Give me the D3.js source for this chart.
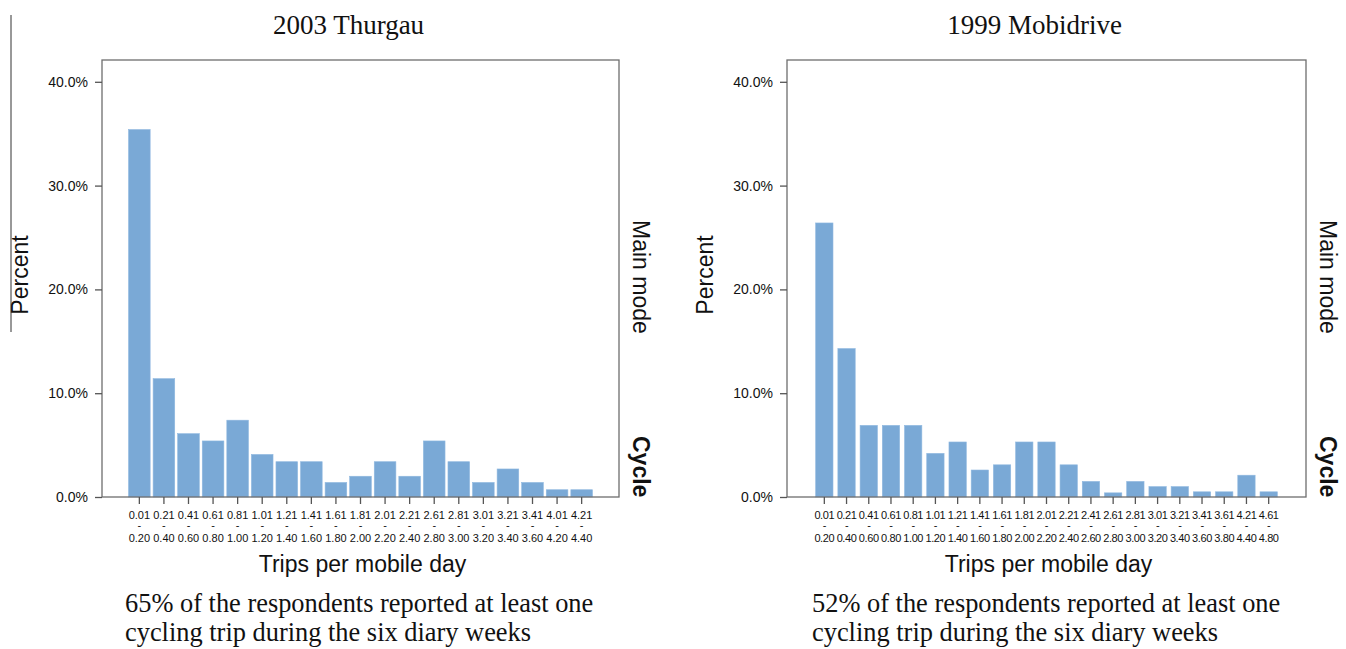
<!DOCTYPE html>
<html>
<head>
<meta charset="utf-8">
<script src="https://cdn.jsdelivr.net/npm/d3@7"></script>
<style>
  body { margin: 0; background: #fff; }
  svg { display: block; }
  .sans { font-family: Arial, "Liberation Sans", sans-serif; fill: #111; }
  .serif { font-family: "Times New Roman", "Liberation Serif", serif; fill: #111; }
</style>
</head>
<body>
<svg width="1346" height="649"></svg>
<script>
// 2003 Thurgau
var thurgauLow  = ["0.01","0.21","0.41","0.61","0.81","1.01","1.21","1.41","1.61","1.81","2.01","2.21","2.61","2.81","3.01","3.21","3.41","4.01","4.21"];
var thurgauHigh = ["0.20","0.40","0.60","0.80","1.00","1.20","1.40","1.60","1.80","2.00","2.20","2.40","2.80","3.00","3.20","3.40","3.60","4.20","4.40"];
var thurgauPct  = [35.4, 11.4, 6.1, 5.4, 7.4, 4.1, 3.4, 3.4, 1.4, 2.0, 3.4, 2.0, 5.4, 3.4, 1.4, 2.7, 1.4, 0.7, 0.7];

// 1999 Mobidrive
var mobiLow  = ["0.01","0.21","0.41","0.61","0.81","1.01","1.21","1.41","1.61","1.81","2.01","2.21","2.41","2.61","2.81","3.01","3.21","3.41","3.61","4.21","4.61"];
var mobiHigh = ["0.20","0.40","0.60","0.80","1.00","1.20","1.40","1.60","1.80","2.00","2.20","2.40","2.60","2.80","3.00","3.20","3.40","3.60","3.80","4.40","4.80"];
var mobiPct  = [26.4, 14.3, 6.9, 6.9, 6.9, 4.2, 5.3, 2.6, 3.1, 5.3, 5.3, 3.1, 1.5, 0.4, 1.5, 1.0, 1.0, 0.5, 0.5, 2.1, 0.5];

var yTicks = [0, 10, 20, 30, 40];

var svg = d3.select("svg");

// stray rule at the left edge of the scan
svg.append("line")
  .attr("x1", 11).attr("x2", 11).attr("y1", 15).attr("y2", 332)
  .attr("stroke", "#333").attr("stroke-width", 1);

function panel(opt) {
  var g = svg.append("g");
  var L = opt.left, R = opt.right, T = 60, B = 497;

  var x = d3.scaleBand()
    .domain(d3.range(opt.values.length))
    .range([L, R])
    .paddingInner(opt.pin)
    .paddingOuter(opt.pout);

  var y = d3.scaleLinear().domain([0, 42.1]).range([B, T]);

  // bars
  g.selectAll(".bar")
    .data(opt.values)
    .enter().append("rect")
      .attr("class", "bar")
      .attr("x", function(d, i) { return x(i); })
      .attr("width", x.bandwidth())
      .attr("y", function(d) { return y(d); })
      .attr("height", function(d) { return B - y(d); })
      .attr("fill", "#7aa9d6")
      .attr("stroke", "#8fb8e0")
      .attr("stroke-width", 0.6);

  // frame
  g.append("rect")
    .attr("x", L).attr("y", T)
    .attr("width", R - L).attr("height", B - T)
    .attr("fill", "none").attr("stroke", "#6e6e6e").attr("stroke-width", 1.3);

  // y axis
  var ya = g.append("g")
    .attr("transform", "translate(" + L + ",0)")
    .call(d3.axisLeft(y).tickValues(yTicks)
      .tickFormat(function(d) { return d.toFixed(1) + "%"; })
      .tickSize(7).tickPadding(7));
  ya.select(".domain").remove();
  ya.selectAll("line").attr("stroke", "#555").attr("stroke-width", 1.3);
  ya.selectAll("text").attr("class", "sans").style("font-size", "14px").attr("fill", "#111");

  // x axis
  var xa = g.append("g")
    .attr("transform", "translate(0," + B + ")")
    .call(d3.axisBottom(x).tickSize(7).tickFormat(""));
  xa.select(".domain").remove();
  xa.selectAll("line").attr("stroke", "#555").attr("stroke-width", 1.3);

  var lab = g.selectAll(".xlab")
    .data(opt.values)
    .enter().append("text")
      .attr("class", "sans")
      .attr("text-anchor", "middle")
      .style("font-size", "11px")
      .style("letter-spacing", opt.ls + "px");
  lab.append("tspan")
    .attr("x", function(d, i) { return x(i) + x.bandwidth() / 2; })
    .attr("y", 519)
    .text(function(d, i) { return opt.low[i]; });
  lab.append("tspan")
    .attr("x", function(d, i) { return x(i) + x.bandwidth() / 2; })
    .attr("y", 529)
    .text("-");
  lab.append("tspan")
    .attr("x", function(d, i) { return x(i) + x.bandwidth() / 2; })
    .attr("y", 541.5)
    .text(function(d, i) { return opt.high[i]; });

  // titles
  g.append("text").attr("class", "serif")
    .attr("x", (L + R) / 2 - 12).attr("y", 34)
    .attr("text-anchor", "middle")
    .style("font-size", "27px")
    .text(opt.title);

  g.append("text").attr("class", "sans")
    .attr("x", (L + R) / 2 + 2).attr("y", 572)
    .attr("text-anchor", "middle")
    .style("font-size", "23px")
    .text("Trips per mobile day");

  g.append("text").attr("class", "sans")
    .attr("transform", "translate(" + (L - 74) + ",275) rotate(-90)")
    .attr("text-anchor", "middle")
    .style("font-size", "23px")
    .text("Percent");

  g.append("text").attr("class", "sans")
    .attr("transform", "translate(" + (R + 14) + ",220) rotate(90)")
    .style("font-size", "23px")
    .text("Main mode");

  g.append("text").attr("class", "sans")
    .attr("transform", "translate(" + (R + 14) + ",436) rotate(90)")
    .style("font-size", "23px").style("font-weight", "bold")
    .text("Cycle");

  // caption
  var cap = g.append("text").attr("class", "serif")
    .style("font-size", "26.4px");
  cap.append("tspan").attr("x", opt.capX).attr("y", 612).text(opt.cap1);
  cap.append("tspan").attr("x", opt.capX).attr("y", 641).text("cycling trip during the six diary weeks");
}

panel({
  left: 102, right: 619, values: thurgauPct, low: thurgauLow, high: thurgauHigh,
  pin: 0.12, pout: 1.08, ls: 0, title: "2003 Thurgau",
  capX: 125, cap1: "65% of the respondents reported at least one"
});

panel({
  left: 787, right: 1306, values: mobiPct, low: mobiLow, high: mobiHigh,
  pin: 0.22, pout: 1.29, ls: -0.4, title: "1999 Mobidrive",
  capX: 812, cap1: "52% of the respondents reported at least one"
});
</script>
</body>
</html>
